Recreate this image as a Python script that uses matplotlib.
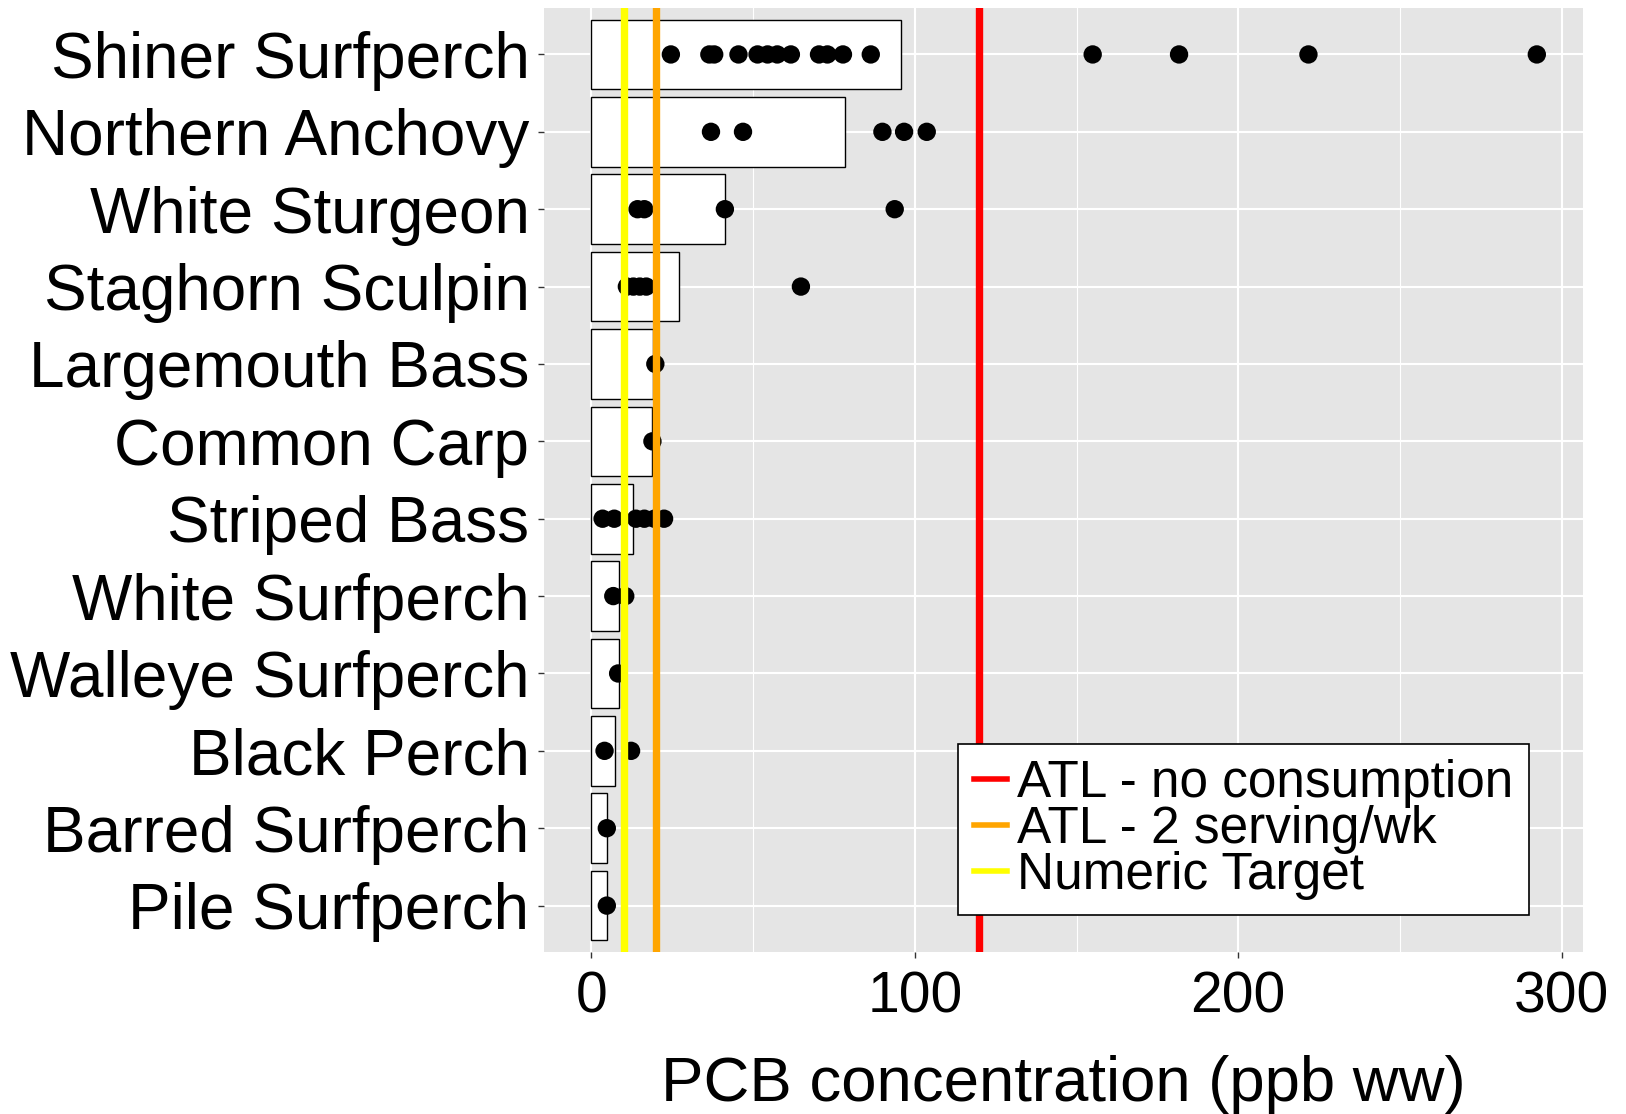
import numpy as np
import matplotlib
matplotlib.use("Agg")
import matplotlib.pyplot as plt
from matplotlib.lines import Line2D

plt.rcParams['font.family'] = ['Liberation Sans', 'DejaVu Sans']

# species, top to bottom
species = ["Shiner Surfperch", "Northern Anchovy", "White Sturgeon", "Staghorn Sculpin",
           "Largemouth Bass", "Common Carp", "Striped Bass", "White Surfperch",
           "Walleye Surfperch", "Black Perch", "Barred Surfperch", "Pile Surfperch"]

# mean PCB (bar length)
mean_pcb = [95.8, 78.4, 41.3, 27.2, 19.2, 18.9, 13.0, 8.6, 8.7, 7.4, 4.9, 4.9]

# individual samples
samples = [
    [24.6, 36.5, 38.0, 45.5, 51.4, 54.5, 57.5, 61.7, 70.4, 73.0, 77.8, 86.4,
     155.0, 181.7, 221.7, 292.3],
    [37.0, 46.9, 90.0, 96.7, 103.7],
    [14.3, 16.4, 41.3, 93.8],
    [11.0, 13.0, 15.0, 17.0, 64.8],
    [19.8],
    [18.9],
    [3.5, 7.1, 13.8, 16.4, 19.5, 22.5],
    [6.8, 10.5],
    [8.3],
    [4.1, 12.3],
    [4.8],
    [4.8],
]

# reference levels
thresholds = [120, 20, 10]
threshold_names = ["ATL - no consumption", "ATL - 2 serving/wk", "Numeric Target"]
threshold_colors = ["#FF0000", "#FFA500", "#FFFF00"]

n = len(species)
ypos = np.arange(n)[::-1] + 1  # top row highest

fig = plt.figure(figsize=(16.26, 11.14), dpi=100)
ax = fig.add_axes([0.3346, 0.1454, 0.639, 0.8474])
ax.set_facecolor("#E5E5E5")

ax.barh(ypos, mean_pcb, height=0.9, color="white", edgecolor="black",
        linewidth=1.0, zorder=2)

for y, vals in zip(ypos, samples):
    ax.scatter(vals, [y] * len(vals), s=175, color="black", edgecolors="none", zorder=3)

for v, c in zip(thresholds, threshold_colors):
    ax.axvline(v, color=c, linewidth=5.3, zorder=4)

ax.set_xlim(-14.6, 306.6)
ax.set_ylim(0.4, n + 0.6)
ax.set_xticks([0, 100, 200, 300])
ax.set_xticks([50, 150, 250], minor=True)
ax.set_yticks(ypos)
ax.set_yticklabels(species)

ax.grid(which="major", color="white", linewidth=1.5, zorder=0)
ax.grid(which="minor", axis="x", color="white", linewidth=0.8, zorder=0)
ax.set_axisbelow(True)
for s in ax.spines.values():
    s.set_visible(False)

ax.tick_params(axis="y", which="major", length=4.5, width=1, color="#333333",
               labelsize=46, pad=6, labelcolor="black")
ax.tick_params(axis="x", which="major", length=4.5, width=1, color="#333333",
               labelsize=41, pad=9, labelcolor="black")
ax.tick_params(axis="x", which="minor", length=0)

ax.set_xlabel("PCB concentration (ppb ww)", fontsize=45.7, labelpad=22)

handles = [Line2D([0], [0], color=c, linewidth=4) for c in threshold_colors]
leg = ax.legend(handles, threshold_names, loc="lower right",
                bbox_to_anchor=(0.948, 0.039), fontsize=37, frameon=True,
                fancybox=False, framealpha=1, edgecolor="black",
                handlelength=0.65, handletextpad=0.2, labelspacing=-0.06,
                borderpad=0.3, borderaxespad=0)
leg.get_frame().set_linewidth(1.2)
leg.set_zorder(10)

fig.savefig("out.png", dpi=100)
